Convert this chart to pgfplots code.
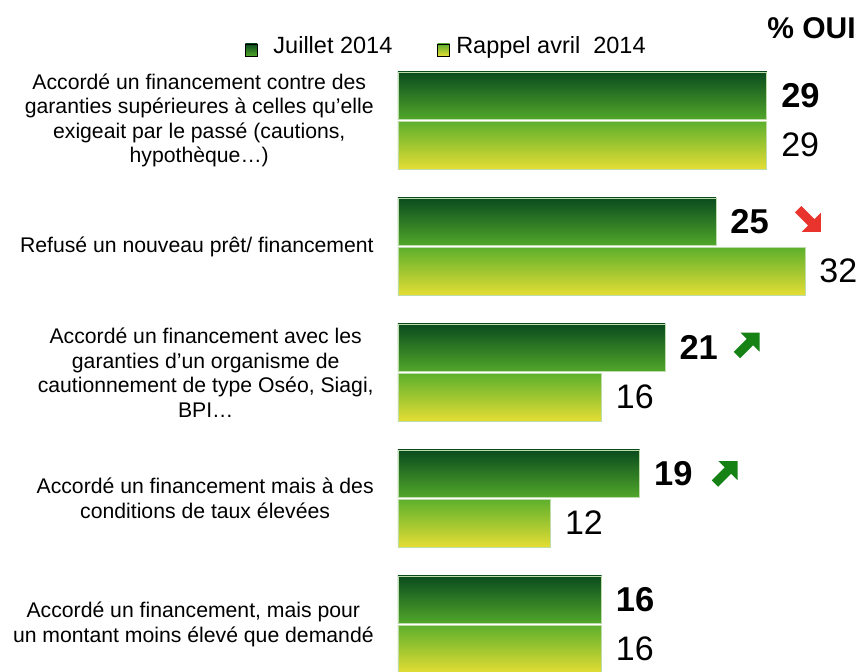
\documentclass[border=0pt]{standalone}
\usepackage{pgfplots}
\pgfplotsset{compat=1.18}
\usepackage{fontspec}
\setmainfont{Liberation Sans}
\usetikzlibrary{shapes.arrows}
\definecolor{julTop}{RGB}{10,75,30}
\definecolor{julBot}{RGB}{82,168,42}
\definecolor{avrTop}{RGB}{92,175,45}
\definecolor{avrBot}{RGB}{228,222,52}
\definecolor{barEdge}{RGB}{190,220,170}
\definecolor{arrRed}{RGB}{232,52,45}
\definecolor{arrGreen}{RGB}{22,130,22}
\pgfplotsset{
  jul/.style={xbar, bar width=0.38, bar shift=0pt, draw=barEdge, line width=0.8pt,
    top color=julTop, bottom color=julBot, forget plot, point meta=x,
    nodes near coords,
    nodes near coords style={font=\fontsize{34.5}{38}\selectfont\bfseries, anchor=west, inner sep=0pt, xshift=14pt, text=black}},
  avr/.style={xbar, bar width=0.38, bar shift=0pt, draw=barEdge, line width=0.8pt,
    top color=avrTop, bottom color=avrBot, forget plot, point meta=x,
    nodes near coords,
    nodes near coords style={font=\fontsize{34}{38}\selectfont, anchor=west, inner sep=0pt, xshift=14pt, text=black}},
}
\tikzset{
  trend/.style={single arrow, draw=none, line width=0pt, minimum height=32pt, inner sep=4.5pt,
    single arrow head extend=9pt, single arrow tip angle=90},
}
\begin{document}
\begin{tikzpicture}
\useasboundingbox (0,0) rectangle (860pt,672pt);
\begin{axis}[
  at={(398pt,0pt)}, anchor=south west,
  scale only axis, width=462pt, height=614.5pt,
  xmin=0, xmax=36.32, ymin=-0.377, ymax=4.5,
  clip=false,
  /pgf/number format/assume math mode=true,
  axis x line=none,
  axis y line=left,
  y axis line style={draw=none},
  ytick style={draw=none},
  xtick=\empty,
  ytick={0,1,2,3,4},
  yticklabels={
    {Accordé un financement, mais pour\\un montant moins élevé que demandé},
    {Accordé un financement mais à des\\conditions de taux élevées},
    {Accordé un financement avec les\\garanties d’un organisme de\\cautionnement de type Oséo, Siagi,\\BPI…},
    {Refusé un nouveau prêt/ financement},
    {Accordé un financement contre des\\garanties supérieures à celles qu’elle\\exigeait par le passé (cautions,\\hypothèque…)}
  },
  yticklabel style={align=center, font=\fontsize{21.2}{24.5}\selectfont, inner sep=0pt, xshift=-22pt},
  legend columns=2,
  legend style={draw=none, fill=none, inner sep=0pt, at={(-0.331,1.0187)}, anchor=west,
    font=\fontsize{23.5}{28}\selectfont,
    /tikz/every odd column/.append style={column sep=4.5pt},
    /tikz/every even column/.append style={column sep=43pt}},
]
% Juillet 2014
\addplot[jul] coordinates {(29,4.195)};
\addplot[jul] coordinates {(25,3.195)};
\addplot[jul] coordinates {(21,2.195)};
\addplot[jul] coordinates {(19,1.195)};
\addplot[jul] coordinates {(16,0.195)};
% Rappel avril 2014
\addplot[avr] coordinates {(29,3.805)};
\addplot[avr] coordinates {(32,2.805)};
\addplot[avr] coordinates {(16,1.805)};
\addplot[avr] coordinates {(12,0.805)};
\addplot[avr] coordinates {(16,-0.195)};
\addlegendimage{legend image code/.code={\path[draw=none,fill=none] (0pt,-1pt) rectangle (21.5pt,1pt);\shade[top color=julTop,bottom color=julBot] (0pt,-10pt) rectangle (12pt,2pt);}}
\addlegendentry{Juillet 2014}
\addlegendimage{legend image code/.code={\shade[top color=avrTop,bottom color=avrBot] (0pt,-10pt) rectangle (12pt,2pt);}}
\addlegendentry{Rappel avril\ \ 2014}
% trend arrows
\node[trend, fill=arrRed, rotate=-45] at ([xshift=92pt,yshift=3pt]axis cs:25,3.195) {};
\node[trend, fill=arrGreen, rotate=45] at ([xshift=81.5pt,yshift=2.5pt]axis cs:21,2.195) {};
\node[trend, fill=arrGreen, rotate=45] at ([xshift=85pt]axis cs:19,1.195) {};
\node[anchor=base east, inner sep=0pt, font=\fontsize{30}{34}\selectfont\bfseries] at (rel axis cs:0.991,1.0317) {\% OUI};
\end{axis}
\end{tikzpicture}
\end{document}
